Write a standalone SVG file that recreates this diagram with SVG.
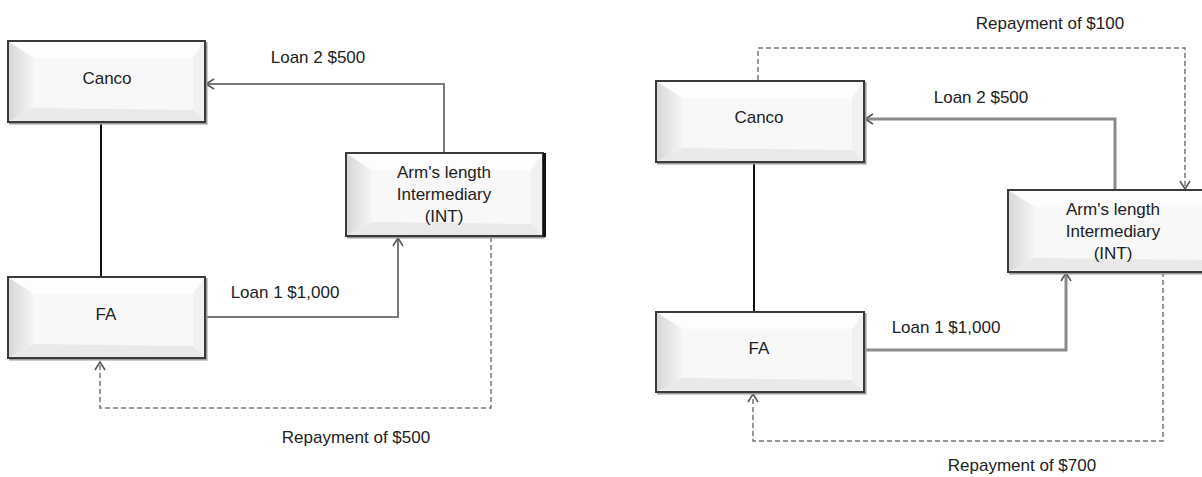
<svg xmlns="http://www.w3.org/2000/svg" width="1202" height="477" viewBox="0 0 1202 477">
<style>
text{font-family:"Liberation Sans",Arial,sans-serif;font-size:17px;fill:#222;text-anchor:middle}
.frame{fill:none;stroke:#3a3a3a;stroke-width:2}
.shadow{fill:none;stroke:#9a9a9a;stroke-width:2}
.c{fill:#f8f8f8}
.bl{fill:url(#gl)}
.bt{fill:#fdfdfd}
.bb{fill:#e9e9e9}
.br{fill:#f1f1f1}
.solid{fill:none;stroke:#7a7a7a;stroke-width:2}
.solid2{fill:none;stroke:#8a8a8a;stroke-width:3}
.link{fill:none;stroke:#111;stroke-width:2}
.dash{fill:none;stroke:#777;stroke-width:1.5;stroke-dasharray:5 3}
</style>
<defs>
<linearGradient id="gl" x1="0" y1="0" x2="1" y2="0">
<stop offset="0" stop-color="#d6d6d6"/><stop offset="1" stop-color="#f6f6f6"/>
</linearGradient>
<marker id="arr" markerWidth="12" markerHeight="12" refX="10" refY="6" orient="auto" markerUnits="userSpaceOnUse">
<path d="M2,1 L10,6 L2,11" fill="none" stroke="#555" stroke-width="1.5"/>
</marker>
</defs>

<g id="connectors">
<!-- left panel -->
<path class="link" d="M101,122 V278"/>
<path class="solid" d="M444,153 V84 H206" marker-end="url(#arr)"/>
<path class="solid" d="M205,317 H398 V238" marker-end="url(#arr)"/>
<path class="dash" d="M491,237 V408 H100 V362" marker-end="url(#arr)"/>
<!-- right panel -->
<path class="link" d="M754,162 V312"/>
<path class="solid2" d="M1115,190 V119 H865" marker-end="url(#arr)"/>
<path class="solid2" d="M864,350 H1066 V273" marker-end="url(#arr)"/>
<path class="dash" d="M758,80 V48 H1185 V189" marker-end="url(#arr)"/>
<path class="dash" d="M1163,272 V441 H753 V394" marker-end="url(#arr)"/>
</g>

<g id="canco-left">
<rect class="c" x="8" y="41" width="197" height="81"/>
<polygon class="bl" points="8,41 34,58 34,108 8,122"/>
<polygon class="bt" points="8,41 205,41 193,58 34,58"/>
<polygon class="br" points="205,41 205,122 193,110 193,58"/>
<polygon class="bb" points="8,122 34,108 193,110 205,122"/>
<path class="shadow" d="M9,123.5 H206.5 V42"/>
<rect class="frame" x="8" y="41" width="197" height="81"/>
<text x="107" y="84">Canco</text>
</g>

<g id="fa-left">
<rect class="c" x="8" y="277" width="197" height="81"/>
<polygon class="bl" points="8,277 34,294 34,344 8,358"/>
<polygon class="bt" points="8,277 205,277 193,294 34,294"/>
<polygon class="br" points="205,277 205,358 193,346 193,294"/>
<polygon class="bb" points="8,358 34,344 193,346 205,358"/>
<path class="shadow" d="M9,359.5 H206.5 V278"/>
<rect class="frame" x="8" y="277" width="197" height="81"/>
<text x="106" y="320">FA</text>
</g>

<g id="int-left">
<rect class="c" x="346" y="153" width="197" height="83"/>
<polygon class="bl" points="346,153 372,170 372,222 346,236"/>
<polygon class="bt" points="346,153 543,153 531,170 372,170"/>
<polygon class="br" points="543,153 543,236 531,224 531,170"/>
<polygon class="bb" points="346,236 372,222 531,224 543,236"/>
<path class="shadow" d="M347,237.5 H545"/>
<rect class="frame" x="346" y="153" width="197" height="83"/>
<path d="M544.5,153 V237" stroke="#111" stroke-width="3"/>
<text x="444" y="178">Arm's length</text>
<text x="444" y="200">Intermediary</text>
<text x="444" y="222">(INT)</text>
</g>

<g id="labels-left">
<text x="318" y="63">Loan 2 $500</text>
<text x="285" y="298">Loan 1 $1,000</text>
<text x="356" y="443">Repayment of $500</text>
</g>

<g id="canco-right">
<rect class="c" x="656" y="81" width="208" height="81"/>
<polygon class="bl" points="656,81 683,98 683,148 656,162"/>
<polygon class="bt" points="656,81 864,81 852,98 683,98"/>
<polygon class="br" points="864,81 864,162 852,150 852,98"/>
<polygon class="bb" points="656,162 683,148 852,150 864,162"/>
<path class="shadow" d="M657,163.5 H865.5 V82"/>
<rect class="frame" x="656" y="81" width="208" height="81"/>
<text x="759" y="123">Canco</text>
</g>

<g id="fa-right">
<rect class="c" x="656" y="312" width="208" height="80"/>
<polygon class="bl" points="656,312 683,329 683,378 656,392"/>
<polygon class="bt" points="656,312 864,312 852,329 683,329"/>
<polygon class="br" points="864,312 864,392 852,380 852,329"/>
<polygon class="bb" points="656,392 683,378 852,380 864,392"/>
<path class="shadow" d="M657,393.5 H865.5 V313"/>
<rect class="frame" x="656" y="312" width="208" height="80"/>
<text x="759" y="354">FA</text>
</g>

<g id="int-right">
<rect class="c" x="1008" y="190" width="210" height="82"/>
<polygon class="bl" points="1008,190 1035,207 1035,258 1008,272"/>
<polygon class="bt" points="1008,190 1218,190 1206,207 1035,207"/>
<polygon class="bb" points="1008,272 1035,258 1206,260 1218,272"/>
<path class="shadow" d="M1009,273.5 H1202"/>
<rect class="frame" x="1008" y="190" width="210" height="82"/>
<text x="1113" y="215">Arm's length</text>
<text x="1113" y="237">Intermediary</text>
<text x="1113" y="259">(INT)</text>
</g>

<g id="labels-right">
<text x="1050" y="29">Repayment of $100</text>
<text x="981" y="103">Loan 2 $500</text>
<text x="946" y="333">Loan 1 $1,000</text>
<text x="1022" y="471">Repayment of $700</text>
</g>
</svg>
